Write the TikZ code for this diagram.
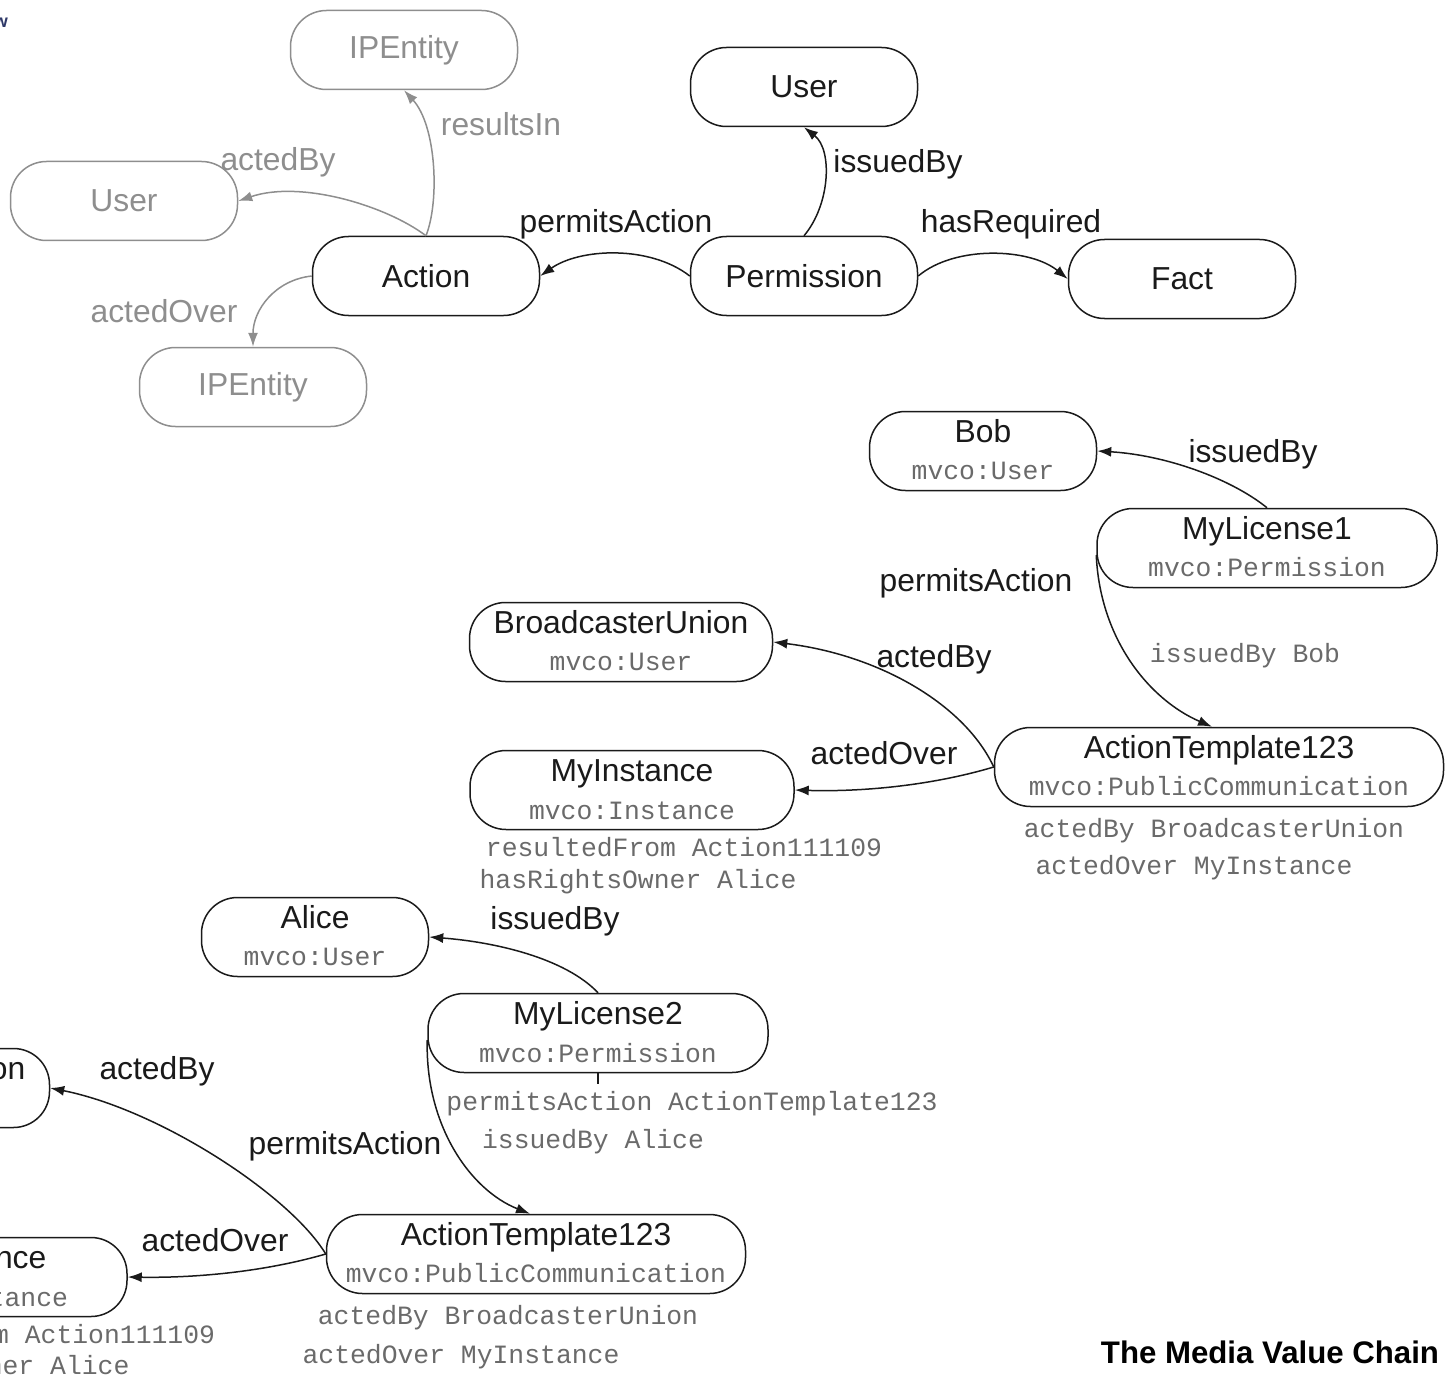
\documentclass[tikz,border=0pt]{standalone}
\usepackage{fontspec}
\setmainfont{Liberation Sans}
\setmonofont{Liberation Mono}
\usetikzlibrary{calc,arrows.meta}

\definecolor{ink}{HTML}{1A1A1A}
\definecolor{faint}{HTML}{8E8E8E}
\definecolor{typegray}{HTML}{6A6A6A}
\definecolor{navy}{HTML}{2E3868}

\newcommand{\sansfnt}{\fontsize{15.9}{19}\selectfont}
\newcommand{\monofnt}{\ttfamily\fontsize{13.2}{16}\selectfont}

\begin{document}
\begin{tikzpicture}[x=0.5pt,y=-0.5pt,
  concept/.style={draw=ink, line width=0.75pt, rounded corners=18pt,
    minimum width=113.5pt, minimum height=39.5pt, inner sep=0pt,
    font=\sansfnt, text=ink},
  ghost/.style={concept, draw=faint, text=faint},
  headline/.style={inner sep=0pt, font=\sansfnt, text=ink, text height=12pt, text depth=1pt},
  kind/.style={inner sep=0pt, font=\monofnt, text=typegray, text height=8.5pt, text depth=1pt},
  rel/.style={headline},
  ghostrel/.style={headline, text=faint},
  link/.style={draw=ink, line width=0.75pt, -{Latex[length=7pt,width=5pt]}},
  ghostlink/.style={link, draw=faint, -{Latex[length=7pt,width=5pt,fill=faint]}},
]
\useasboundingbox (0,0) rectangle (1450,1375);
\clip (0,0) rectangle (1450,1375);

% corner mark
\node[inner sep=0pt, font=\bfseries\fontsize{9}{10}\selectfont, text=navy] (mark) at (1,23) {w};

% ---------- ontology overview ----------
\node[ghost] (ipTop) at (404,50) {IPEntity};
\node[ghost] (usrL) at (124,201) {User};
\node[concept] (act) at (426,276) {Action};
\node[ghost] (ipBot) at (253,387) {IPEntity};
\node[concept] (usrT) at (804,87) {User};
\node[concept] (perm) at (804,276) {Permission};
\node[concept] (fact) at (1182,279) {Fact};

\draw[ghostlink] (act.north) .. controls (440,200) and (436,125) .. (ipTop.south);
\draw[ghostlink] (act.north) .. controls (385,205) and (300,180) .. (usrL.east);
\draw[ghostlink] (act.west) .. controls (275,280) and (253,310) .. (ipBot.north);
\draw[link] (perm.west) .. controls (650,245) and (580,248) .. (act.east);
\draw[link] (perm.north) .. controls (830,205) and (833,150) .. (usrT.south);
\draw[link] (perm.east) .. controls (955,245) and (1030,248) .. (fact.west);

\node[ghostrel] (lResults) at (501,125) {resultsIn};
\node[ghostrel] (lActedByG) at (278,160) {actedBy};
\node[ghostrel] (lActedOverG) at (164,311) {actedOver};
\node[rel] (lPermits) at (616,222) {permitsAction};
\node[rel] (lIssued) at (898,162) {issuedBy};
\node[rel] (lHasReq) at (1011,222) {hasRequired};

% ---------- license of Bob ----------
\node[concept] (bob) at (983,451) {};
\node[headline] (bobN) at ($(bob)+(0,-20)$) {Bob};
\node[kind] (bobK) at ($(bob)+(0,21)$) {mvco:User};

\node[concept, minimum width=170pt] (ml1) at (1267,548) {};
\node[headline] (ml1N) at ($(ml1)+(0,-20)$) {MyLicense1};
\node[kind] (ml1K) at ($(ml1)+(0,21)$) {mvco:Permission};

\node[concept, minimum width=151.5pt] (bu) at (621,642) {};
\node[headline] (buN) at ($(bu)+(0,-20)$) {BroadcasterUnion};
\node[kind] (buK) at ($(bu)+(0,21)$) {mvco:User};

\node[concept, minimum width=162pt] (mi) at (632,790) {};
\node[headline] (miN) at ($(mi)+(0,-20)$) {MyInstance};
\node[kind] (miK) at ($(mi)+(0,22)$) {mvco:Instance};
\node[kind] (miA) at (684,849) {resultedFrom Action111109};
\node[kind] (miB) at (638,881) {hasRightsOwner Alice};

\node[concept, minimum width=224.5pt] (at1) at (1219,767) {};
\node[headline] (at1N) at ($(at1)+(0,-20)$) {ActionTemplate123};
\node[kind] (at1K) at ($(at1)+(0,21)$) {mvco:PublicCommunication};
\node[kind] (at1A) at (1214,830) {actedBy BroadcasterUnion};
\node[kind] (at1B) at (1194,867) {actedOver MyInstance};

\draw[link] (ml1.north) .. controls (1230,478) and (1165,455) .. (bob.east);
\draw[link] ($(ml1.west)+(0,7)$) .. controls (1100,640) and (1150,700) .. ($(at1.north)+(-7,0)$);
\draw[link] (at1.west) .. controls (965,705) and (880,655) .. (bu.east);
\draw[link] (at1.west) .. controls (930,786) and (860,792) .. (mi.east);

\node[rel] (l1Issued) at (1253,451) {issuedBy};
\node[rel] (l1Permits) at (976,580) {permitsAction};
\node[kind] (l1IssuedBob) at (1245,655) {issuedBy Bob};
\node[rel] (l1ActedBy) at (934,656) {actedBy};
\node[rel] (l1ActedOver) at (884,753) {actedOver};

% ---------- license of Alice ----------
\node[concept] (alice) at (315,937) {};
\node[headline] (aliceN) at ($(alice)+(0,-20)$) {Alice};
\node[kind] (aliceK) at ($(alice)+(0,21)$) {mvco:User};

\node[concept, minimum width=170pt] (ml2) at (598,1033) {};
\node[headline] (ml2N) at ($(ml2)+(0,-20)$) {MyLicense2};
\node[kind] (ml2K) at ($(ml2)+(0,22)$) {mvco:Permission};
\coordinate (ml2tick) at (598,1084);
\node[kind] (ml2A) at (692,1103) {permitsAction ActionTemplate123};
\node[kind] (ml2B) at (593,1141) {issuedBy Alice};

\node[concept, minimum width=209.5pt] (at2) at (536,1254) {};
\node[headline] (at2N) at ($(at2)+(0,-20)$) {ActionTemplate123};
\node[kind] (at2K) at ($(at2)+(0,21)$) {mvco:PublicCommunication};
\node[kind] (at2A) at (508,1317) {actedBy BroadcasterUnion};
\node[kind] (at2B) at (461,1356) {actedOver MyInstance};

\node[concept, minimum width=151.5pt] (buCut) at (-102,1088) {};
\node[headline] (buCutN) at ($(buCut)+(0,-20)$) {BroadcasterUnion};
\node[kind] (buCutK) at ($(buCut)+(0,21)$) {mvco:User};

\node[concept, minimum width=162pt] (miCut) at (-35,1277) {};
\node[headline] (miCutN) at ($(miCut)+(0,-20)$) {MyInstance};
\node[kind] (miCutK) at ($(miCut)+(0,22)$) {mvco:Instance};
\node[kind] (miCutA) at (17,1336) {resultedFrom Action111109};
\node[kind] (miCutB) at (-29,1367) {hasRightsOwner Alice};

\draw[link] (ml2.north) .. controls (565,958) and (495,942) .. (alice.east);
\draw[link] ($(ml2.west)+(0,7)$) .. controls (425,1125) and (470,1190) .. ($(at2.north)+(-6,0)$);
\draw[link] (at2.west) .. controls (290,1195) and (160,1110) .. (buCut.east);
\draw[link] (at2.west) .. controls (260,1273) and (190,1278) .. (miCut.east);
\draw[draw=ink, line width=0.75pt] (ml2.south) -- (ml2tick);

\node[rel] (l2Issued) at (555,918) {issuedBy};
\node[rel] (l2Permits) at (345,1143) {permitsAction};
\node[rel] (l2ActedBy) at (157,1068) {actedBy};
\node[rel] (l2ActedOver) at (215,1240) {actedOver};

% caption
\node[inner sep=0pt, font=\bfseries\fontsize{15.6}{19}\selectfont, text=black,
  text height=12pt, text depth=1pt] (caption) at (1270,1352) {The Media Value Chain};
\end{tikzpicture}
\end{document}
